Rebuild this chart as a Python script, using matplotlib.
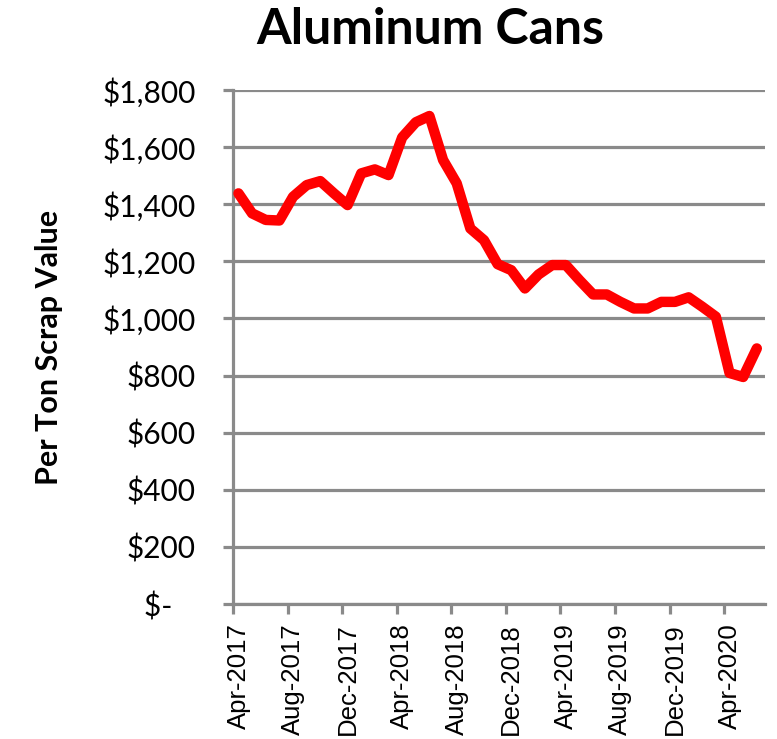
import matplotlib
matplotlib.use("Agg")
import matplotlib.pyplot as plt
import numpy as np

months = ["Apr-2017","May-2017","Jun-2017","Jul-2017","Aug-2017","Sep-2017","Oct-2017","Nov-2017",
          "Dec-2017","Jan-2018","Feb-2018","Mar-2018","Apr-2018","May-2018","Jun-2018","Jul-2018",
          "Aug-2018","Sep-2018","Oct-2018","Nov-2018","Dec-2018","Jan-2019","Feb-2019","Mar-2019",
          "Apr-2019","May-2019","Jun-2019","Jul-2019","Aug-2019","Sep-2019","Oct-2019","Nov-2019",
          "Dec-2019","Jan-2020","Feb-2020","Mar-2020","Apr-2020","May-2020","Jun-2020"]
values = [1438, 1368, 1345, 1343, 1426, 1467, 1481, 1438,
          1397, 1508, 1522, 1502, 1634, 1687, 1709, 1555,
          1473, 1315, 1274, 1190, 1169, 1105, 1154, 1187,
          1187, 1134, 1084, 1084, 1058, 1035, 1035, 1058,
          1058, 1074, 1041, 1006, 809, 795, 895]
yticks = [0, 200, 400, 600, 800, 1000, 1200, 1400, 1600, 1800]
ytick_labels = ["$-   ", "$200", "$400", "$600", "$800", "$1,000", "$1,200", "$1,400", "$1,600", "$1,800"]

grey = "#8a8a8a"
fig = plt.figure(figsize=(7.77, 7.39), dpi=100)
ax = fig.add_axes([233/777, 1-604/739, (765-233)/777, (604-90)/739])

x = np.arange(len(values))
ax.plot(x, values, color="#ff0000", lw=7.5, solid_joinstyle="round", solid_capstyle="round",
        zorder=3, clip_on=False)

ax.set_ylim(0, 1800)
ax.set_xlim(-0.4, 38.6)
ax.set_yticks(yticks)
ax.set_yticklabels(ytick_labels, fontsize=21.5, family="Lato")
ax.yaxis.grid(True, color=grey, lw=2.3)
ax.set_axisbelow(True)

major = np.arange(0, len(values), 4)
ax.set_xticks(major)
ax.set_xticklabels([months[i] for i in major], rotation=90, fontsize=18.5, family="Liberation Sans",
                   va="top", ha="center")
ax.set_xticks(major - 0.4, minor=True)
ax.tick_params(axis="x", which="major", length=0, pad=14)
ax.tick_params(axis="x", which="minor", length=7, width=2.3, color=grey, direction="out")
ax.tick_params(axis="y", length=7, width=2.3, color=grey, direction="out", pad=20)

for s in ["top", "right"]:
    ax.spines[s].set_visible(False)
for s in ["left", "bottom"]:
    ax.spines[s].set_color(grey)
    ax.spines[s].set_linewidth(2.3)

ax.set_ylabel("Per Ton Scrap Value", fontsize=22, fontweight="bold", family="Lato", labelpad=28)
fig.text(430/777, 1-30/739, "Aluminum Cans", ha="center", va="center", fontsize=36,
         fontweight="bold", family="Lato")

fig.savefig("out.png", dpi=100)
